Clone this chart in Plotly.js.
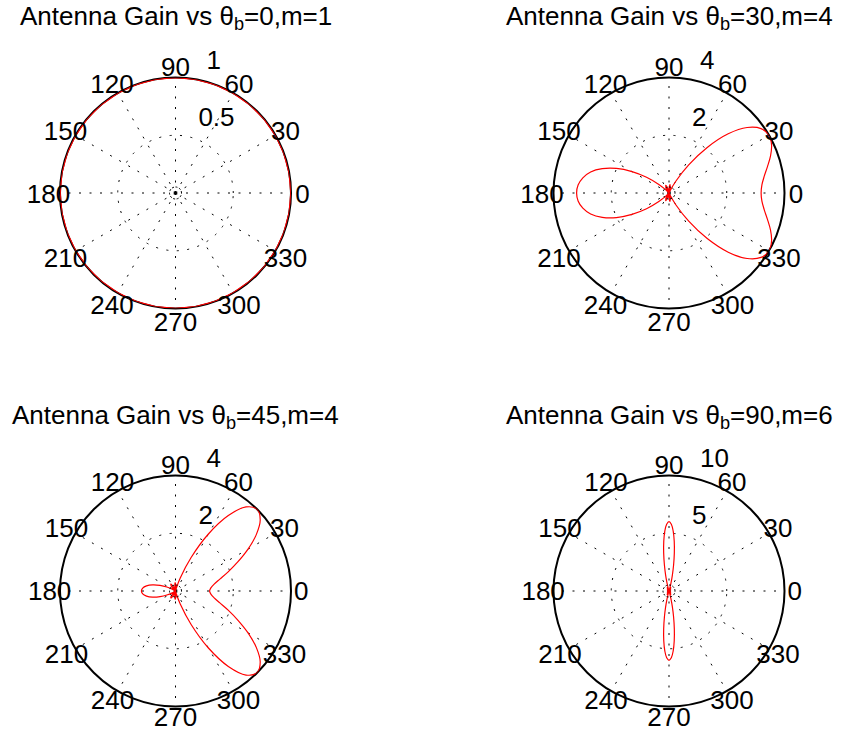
<!DOCTYPE html>
<html><head><meta charset="utf-8">
<script src="https://cdn.plot.ly/plotly-3.0.1.min.js"></script>
<style>html,body{margin:0;padding:0;background:#fff}#chart{width:841px;height:731px}</style>
</head><body><div id="chart"></div>
<script>
// ---- data ----
const titles = [
  'Antenna Gain vs θ<sub>b</sub>=0,m=1',
  'Antenna Gain vs θ<sub>b</sub>=30,m=4',
  'Antenna Gain vs θ<sub>b</sub>=45,m=4',
  'Antenna Gain vs θ<sub>b</sub>=90,m=6'
];
const angleTicks = [0,30,60,90,120,150,180,210,240,270,300,330];
const angleLabels = ['0','30','60','90','120','150','180','210','240','270','300','330'];
const rMax = [1, 4, 4, 10];
const rTicks = [[0.5, 1], [2, 4], [2, 4], [5, 10]];
const rTickLabels = [['0.5', '1'], ['2', '4'], ['2', '4'], ['5', '10']];

const theta1 = [0,10,20,30,40,50,60,70,80,90,100,110,120,130,140,150,160,170,180,190,200,210,220,230,240,250,260,270,280,290,300,310,320,330,340,350,360];
const gain1  = [1,1,1,1,1,1,1,1,1,1,1,1,1,1,1,1,1,1,1,1,1,1,1,1,1,1,1,1,1,1,1,1,1,1,1,1,1];

const theta2 = [0,5,10,15,20,25,30,35,40,45,50,55,60,65,68.5,75,83,90,97.7,105,112.6,120,129.3,135,140,145,150,155,160,165,170,175,180,
                185,190,195,200,205,210,215,220,225,230.7,240,247.4,255,262.3,270,277,285,291.5,295,300,305,310,315,320,325,330,335,340,345,350,355,360];
const gain2  = [3.19,3.23,3.35,3.53,3.74,3.92,4.00,3.89,3.53,2.90,2.06,1.19,0.47,0.07,0,0.15,0.29,0.15,0,0.13,0.29,0.20,0,0.13,0.46,0.95,1.48,2.01,2.46,2.81,3.03,3.16,3.20,
                3.16,3.03,2.81,2.46,2.01,1.48,0.95,0.46,0.13,0,0.20,0.29,0.13,0,0.15,0.29,0.15,0,0.07,0.47,1.19,2.06,2.90,3.53,3.89,4.00,3.92,3.74,3.53,3.35,3.23,3.19];

const theta3 = [0,5,10,15,20,25,30,35,40,45,50,55,60,65,70,74,78,85,92.5,100,107,115,123,130,135,142.5,150,155,160,165,170,175,180,
                185,190,195,200,205,210,217.5,225,230,237,245,253,260,267.5,275,282,286,290,295,300,305,310,315,320,325,330,335,340,345,350,355,360];
const gain3  = [1.18,1.23,1.36,1.59,1.94,2.38,2.90,3.42,3.83,4.00,3.80,3.19,2.28,1.28,0.48,0.11,0,0.17,0.29,0.12,0,0.14,0.29,0.23,0.10,0,0.13,0.33,0.57,0.82,1.02,1.14,1.18,
                1.14,1.02,0.82,0.57,0.33,0.13,0,0.10,0.23,0.29,0.14,0,0.12,0.29,0.17,0,0.11,0.48,1.28,2.28,3.19,3.80,4.00,3.83,3.42,2.90,2.38,1.94,1.59,1.36,1.23,1.18];

const theta4 = [0,15,25,33.6,40,48.2,55,60,65,70.5,72,74,76,78,80,82,84,86,88,90,
                92,94,96,98,100,102,104,106,108,109.5,115,120,125,131.8,140,146.4,155,165,180,
                195,205,213.6,220,228.2,235,240,245,250.5,252,254,256,258,260,262,264,266,268,270,
                272,274,276,278,280,282,284,286,288,289.5,295,300,305,311.8,320,326.4,335,345,360];
const gain4  = [0,0.02,0.10,0.18,0.12,0,0.16,0.33,0.24,0,0.04,0.25,0.70,1.39,2.29,3.31,4.33,5.20,5.79,6.00,
                5.79,5.20,4.33,3.31,2.29,1.39,0.70,0.25,0.04,0,0.24,0.33,0.16,0,0.12,0.18,0.10,0.02,0,
                0.02,0.10,0.18,0.12,0,0.16,0.33,0.24,0,0.04,0.25,0.70,1.39,2.29,3.31,4.33,5.20,5.79,6.00,
                5.79,5.20,4.33,3.31,2.29,1.39,0.70,0.25,0.04,0,0.24,0.33,0.16,0,0.12,0.18,0.10,0.02,0];

const thetas = [theta1, theta2, theta3, theta4];
const gains  = [gain1, gain2, gain3, gain4];

// ---- layout geometry ----
const W = 841, H = 731, R = 115.5, K = 1.2;
const LABEL_DROP = 4; // px: centre angular labels like the original's middle alignment
const centers = [[175.5,193],[669,193],[175.5,591],[669,591]];
const FONT = 'Liberation Sans, Arial, Helvetica, sans-serif';
const FS = 26;
const GRIDDASH = '2px,8.5px';

function domainFor(cx, cy, rad) {
  return {x: [(cx - rad) / W, (cx + rad) / W], y: [Math.max(0, 1 - (cy + rad) / H), Math.min(1, 1 - (cy - rad) / H)]};
}
function hiddenAxes() {
  return {
    radialaxis: {showgrid: false, showticklabels: false, ticks: '', showline: false},
    angularaxis: {direction: 'counterclockwise', rotation: 0, showgrid: false, showticklabels: false, ticks: '', showline: false}
  };
}

const data = [];
const layout = {
  width: W, height: H,
  margin: {l:0, r:0, t:0, b:0},
  paper_bgcolor: '#fff',
  showlegend: false,
  font: {family: FONT, size: FS, color: '#000'},
  annotations: []
};

for (let i = 0; i < 4; i++) {
  const sp = i === 0 ? 'polar' : 'polar' + (i + 1);
  const ov = 'polar' + (i + 5);   // radial labels + centre circle
  const ovA = 'polar' + (i + 9);  // angular labels
  const [cx, cy] = centers[i];
  const rm = rMax[i];
  const rinc = rTicks[i][0];
  layout[sp] = {
    domain: domainFor(cx, cy, R),
    bgcolor: '#fff',
    radialaxis: {
      range: [0, rm], tickmode: 'array', tickvals: rTicks[i],
      showticklabels: false, ticks: '', showline: false,
      gridcolor: '#000', gridwidth: 1, griddash: GRIDDASH, layer: 'below traces'
    },
    angularaxis: {
      tickmode: 'array', tickvals: angleTicks, direction: 'counterclockwise', rotation: 0,
      showticklabels: false, ticks: '', showline: true, linecolor: '#000', linewidth: 2,
      gridcolor: '#000', gridwidth: 1, griddash: GRIDDASH, layer: 'below traces'
    }
  };
  const o1 = hiddenAxes();
  o1.radialaxis = {
    range: [0, rm * K], tickmode: 'array', tickvals: [rm * 0.052],
    showticklabels: false, ticks: '', showline: false,
    gridcolor: '#000', gridwidth: 1, griddash: '2px,1.6px', layer: 'below traces'
  };
  layout[ov] = Object.assign({domain: domainFor(cx, cy, R * K), bgcolor: 'rgba(0,0,0,0)'}, o1);
  const o2 = hiddenAxes();
  o2.radialaxis.range = [0, rm * K];
  layout[ovA] = Object.assign({domain: domainFor(cx, cy + LABEL_DROP, R * K), bgcolor: 'rgba(0,0,0,0)'}, o2);

  // gain curve
  data.push({
    type: 'scatterpolar', subplot: sp, mode: 'lines',
    r: gains[i], theta: thetas[i],
    line: {color: '#ff0000', width: i === 0 ? 1.6 : 1.2, shape: i === 0 ? 'linear' : 'spline', smoothing: 1},
    cliponaxis: false, hoverinfo: 'skip'
  });
  // angular labels centred at 1.1 * rmax
  data.push({
    type: 'scatterpolar', subplot: ovA, mode: 'text',
    r: angleTicks.map(() => rm * 1.1), theta: angleTicks, text: angleLabels,
    textposition: 'middle center', textfont: {family: FONT, size: FS, color: '#000'},
    cliponaxis: false, hoverinfo: 'skip'
  });
  // radial labels along 82 deg
  data.push({
    type: 'scatterpolar', subplot: ov, mode: 'text',
    r: rTicks[i].map(v => v + rinc / 20), theta: rTicks[i].map(() => 82),
    text: rTickLabels[i].map(s => '\u00a0\u00a0' + s),
    textposition: 'top right', textfont: {family: FONT, size: FS, color: '#000'},
    cliponaxis: false, hoverinfo: 'skip'
  });
  layout.annotations.push({
    xref: 'paper', yref: 'paper', x: cx / W, y: 1 - (cy - 175) / H,
    xanchor: 'center', yanchor: 'middle', showarrow: false,
    text: titles[i], font: {family: FONT, size: FS, color: '#000'}
  });
}

Plotly.newPlot('chart', data, layout, {staticPlot: true, displayModeBar: false});
</script>
</body></html>
